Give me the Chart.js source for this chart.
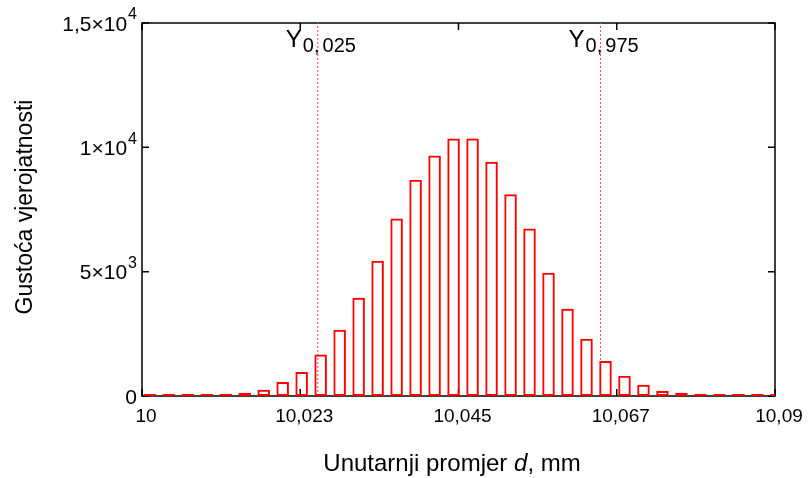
<!DOCTYPE html>
<html>
<head>
<meta charset="utf-8">
<script src="https://cdn.jsdelivr.net/npm/chart.js@4.4.0/dist/chart.umd.min.js"></script>
<style>
html, body { margin: 0; padding: 0; background: #fff; }
#wrap { width: 811px; height: 478px; }
</style>
</head>
<body>
<div id="wrap"><canvas id="myChart" width="811" height="478"></canvas></div>
<script>
// histogram: bin centres (mm) and density
const binCenters = [10.0011, 10.0038, 10.0065, 10.0092, 10.0119, 10.0146, 10.0173, 10.0200,
  10.0227, 10.0254, 10.0281, 10.0308, 10.0335, 10.0362, 10.0389, 10.0416, 10.0443, 10.0470,
  10.0497, 10.0524, 10.0551, 10.0578, 10.0605, 10.0632, 10.0659, 10.0686, 10.0713, 10.0740,
  10.0767, 10.0794, 10.0821, 10.0848, 10.0875, 10.0902];
const density = [0, 0, 0, 0, 95, 135, 255, 565, 965, 1665, 2665, 3950, 5440, 7135, 8700, 9675,
  10360, 10360, 9420, 8110, 6740, 4960, 3510, 2300, 1410, 815, 455, 205, 130, 90, 0, 0, 0, 0];

// quantile markers
const quantileValues = [10.025, 10.0652];
const quantileNames = [['0,', '025'], ['0,', '975']];

// axes
const xTickValues = [10, 10.0225, 10.045, 10.0675, 10.09];
const xTickLabels = ['10', '10,023', '10,045', '10,067', '10,09'];
const yTickValues = [0, 5000, 10000, 15000];
const yTickLabels = [['0', ''], ['5×10', '3'], ['1×10', '4'], ['1,5×10', '4']];

const FONT = '"Liberation Sans", Arial, sans-serif';
const RED = '#ff0000';

const framePlugin = {
  id: 'frame',
  beforeDatasetsDraw(chart) {
    const {ctx, chartArea: a, scales: {x, y}} = chart;
    ctx.save();
    ctx.strokeStyle = '#000';
    ctx.lineWidth = 1.5;
    ctx.strokeRect(a.left, a.top, a.right - a.left, a.bottom - a.top);
    ctx.beginPath();
    xTickValues.forEach(v => {
      const px = x.getPixelForValue(v);
      ctx.moveTo(px, a.bottom); ctx.lineTo(px, a.bottom - 7);
      ctx.moveTo(px, a.top); ctx.lineTo(px, a.top + 7);
    });
    yTickValues.forEach(v => {
      const py = y.getPixelForValue(v);
      ctx.moveTo(a.left, py); ctx.lineTo(a.left + 7, py);
      ctx.moveTo(a.right, py); ctx.lineTo(a.right - 7, py);
    });
    ctx.stroke();
    ctx.restore();
  },
  afterDraw(chart) {
    const {ctx, chartArea: a, scales: {x, y}} = chart;
    ctx.save();
    ctx.fillStyle = '#000';
    ctx.textBaseline = 'middle';
    ctx.textAlign = 'left';
    // y tick labels with exponents
    yTickValues.forEach((v, i) => {
      const [base, exp] = yTickLabels[i];
      const py = y.getPixelForValue(v);
      ctx.font = '21px ' + FONT;
      const wb = ctx.measureText(base).width;
      ctx.font = '16px ' + FONT;
      const we = exp ? ctx.measureText(exp).width + 1 : 0;
      const x0 = a.left - 5 - wb - we;
      ctx.font = '21px ' + FONT;
      ctx.fillText(base, x0, py + 2);
      if (exp) {
        ctx.font = '16px ' + FONT;
        ctx.fillText(exp, x0 + wb + 1, py - 8);
      }
    });
    // quantile labels
    ctx.textBaseline = 'alphabetic';
    quantileValues.forEach((q, i) => {
      const px = x.getPixelForValue(q);
      let cx = px - 32;
      ctx.font = '24px ' + FONT;
      ctx.fillText('Y', cx, 47);
      cx += ctx.measureText('Y').width + 1;
      ctx.font = '20px ' + FONT;
      ctx.fillText(quantileNames[i][0], cx, 52);
      cx += ctx.measureText(quantileNames[i][0]).width + 3;
      ctx.fillText(quantileNames[i][1], cx, 52);
    });
    // x title with italic d
    const parts = [['Unutarnji promjer ', ''], ['d', 'italic '], [', mm', '']];
    let total = 0;
    parts.forEach(p => { ctx.font = p[1] + '24px ' + FONT; total += ctx.measureText(p[0]).width; });
    let tx = 452 - total / 2;
    parts.forEach(p => {
      ctx.font = p[1] + '24px ' + FONT;
      ctx.fillText(p[0], tx, 471);
      tx += ctx.measureText(p[0]).width;
    });
    // y title
    ctx.translate(26, 207);
    ctx.rotate(-Math.PI / 2);
    ctx.textAlign = 'center';
    ctx.textBaseline = 'middle';
    ctx.font = '23px ' + FONT;
    ctx.fillText('Gustoća vjerojatnosti', 0, 0);
    ctx.restore();
  }
};

const ctx = document.getElementById('myChart').getContext('2d');
new Chart(ctx, {
  type: 'bar',
  data: {
    datasets: [
      {
        type: 'bar',
        data: binCenters.map((c, i) => ({x: c, y: density[i]})),
        borderColor: RED,
        backgroundColor: 'rgba(255,255,255,0)',
        borderWidth: 2,
        borderSkipped: false,
        minBarLength: 2,
        barPercentage: 0.66,
        categoryPercentage: 1
      },
      ...quantileValues.map(q => ({
        type: 'line',
        data: [{x: q, y: 0}, {x: q, y: 15000}],
        borderColor: '#ff3c3c',
        borderWidth: 1,
        borderDash: [2, 2],
        pointRadius: 0
      }))
    ]
  },
  options: {
    responsive: false,
    devicePixelRatio: 1,
    animation: false,
    layout: {padding: {top: 23, right: 36, left: 0, bottom: 0}},
    plugins: {legend: {display: false}, tooltip: {enabled: false}},
    scales: {
      x: {
        type: 'linear',
        min: 10,
        max: 10.09,
        offset: false,
        afterBuildTicks: s => { s.ticks = xTickValues.map(v => ({value: v})); },
        afterFit: s => { s.height = 82; },
        grid: {display: false, drawTicks: false, offset: false},
        border: {display: false},
        ticks: {
          autoSkip: false,
          maxRotation: 0,
          padding: 9,
          labelOffset: 4,
          color: '#000',
          font: {family: FONT, size: 19},
          callback: (v, i) => xTickLabels[i]
        }
      },
      y: {
        min: 0,
        max: 15000,
        afterBuildTicks: s => { s.ticks = yTickValues.map(v => ({value: v})); },
        afterFit: s => { s.width = 142; },
        grid: {display: false, drawTicks: false},
        border: {display: false},
        ticks: {display: false}
      }
    }
  },
  plugins: [framePlugin]
});
</script>
</body>
</html>
